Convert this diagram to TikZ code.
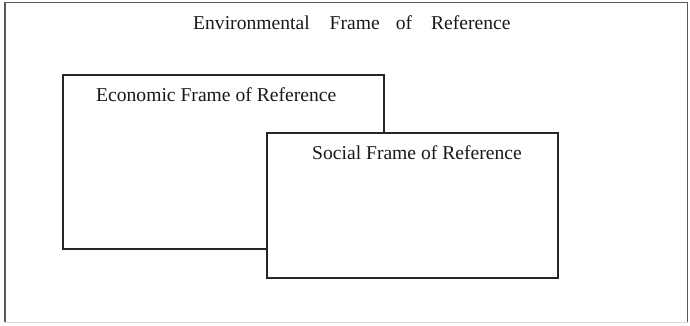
\documentclass[tikz,border=0pt]{standalone}
\usepackage{fontspec}
\setmainfont{Liberation Serif}
\begin{document}
\begin{tikzpicture}[x=1pt,y=-1pt,
  framebox/.style={draw=black!85, line width=1.2pt, fill=white},
  lbl/.style={anchor=base west, inner sep=0pt, font=\fontsize{19.6}{23}\selectfont, text=black!90}]
\useasboundingbox (0,0) rectangle (690,325);
% outer frame
\draw[black!65, line width=1.5pt] (5,322) -- (5,2.5) -- (687.5,2.5) -- (687.5,322);
\draw[black!15, line width=0.8pt] (5,322) -- (687.5,322);
\node[lbl] (env) at (193,29) {Environmental\hspace{20pt}Frame\hspace{16pt}of\hspace{19pt}Reference};
% economic
\draw[framebox] (63,75) rectangle (384,249);
\node[lbl] (eco) at (96,101) {Economic Frame of Reference};
% social
\draw[framebox] (267,133) rectangle (558,278);
\node[lbl] (soc) at (312,159) {Social Frame of Reference};
\end{tikzpicture}
\end{document}
